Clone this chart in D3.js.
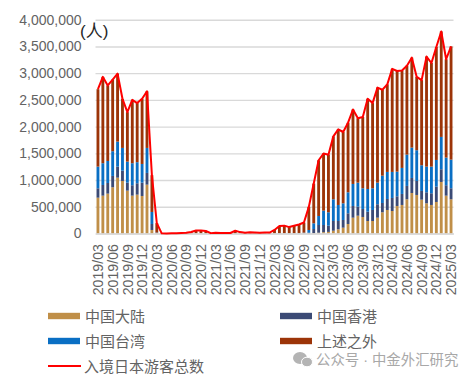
<!DOCTYPE html>
<html>
<head>
<meta charset="utf-8">
<script src="https://cdn.jsdelivr.net/npm/d3@7"></script>
<style>
html, body { margin: 0; padding: 0; background: #fff; }
text { font-family: "Liberation Sans", "Noto Sans CJK SC", sans-serif; }
</style>
</head>
<body>
<div id="container"></div>
<script>
// monthly values, thousands of visitors, 2019/03 .. 2025/03
var startYear = 2019, startMonth = 3, monthCount = 73;
var mainland = [670,708,746,865,1045,983,802,708,727,702,914,66,10,
    0,0,0,0,1,1,2,3,3,2,1,1,1,1,1,3,2,1,1,1,1,1,1,3,4,4,4,4,5,5,
    3,8,15,25,30,52,79,109,178,296,333,309,234,234,296,397,440,421,515,534,640,758,721,633,565,534,590,964,708,640];
var hongkong = [176,200,199,212,206,193,149,195,213,249,219,112,3,
    0,0,0,0,0,0,0,0,0,0,0,0,0,0,0,0,0,0,0,0,0,0,0,0,1,1,1,1,1,3,
    12,76,144,134,116,182,155,144,200,219,169,150,174,206,251,174,206,244,181,206,250,281,262,163,206,219,286,238,195,206];
var taiwan = [405,407,412,462,468,425,394,412,394,350,468,225,5,
    0,0,0,0,0,0,0,0,0,0,0,0,0,0,0,0,0,0,0,0,0,0,0,2,3,3,3,3,4,8,
    51,107,169,268,251,406,300,312,393,412,449,387,425,406,404,511,506,487,461,487,586,568,575,481,480,498,500,605,517,536];
var others = [1449,1615,1413,1341,1271,919,925,1185,1106,1219,1059,687,176,
    3,2,3,4,8,13,25,53,55,44,6,11,10,9,8,48,24,12,21,19,11,17,16,61,131,139,112,136,159,190,
    432,743,1042,1070,1078,1177,1415,1334,1302,1393,1205,1334,1687,1594,1779,1608,1638,1928,1883,1823,1664,1683,1372,1593,2059,1939,2114,1973,1840,2118];
var totals = [2700,2930,2770,2880,2990,2520,2270,2500,2440,2520,2660,1090,194,
    3,2,3,4,9,14,27,56,58,46,7,12,11,10,9,51,26,13,22,20,12,18,17,66,139,147,120,144,169,206,
    498,934,1370,1497,1475,1817,1949,1899,2073,2320,2156,2180,2520,2440,2730,2690,2790,3080,3040,3050,3140,3290,2930,2870,3310,3190,3490,3780,3260,3500];

var seriesNames = ["中国大陆", "中国香港", "中国台湾", "上述之外"];
var seriesColors = ["#c08f48", "#3b4a75", "#0a6fc4", "#9c3408"];
var lineName = "入境日本游客总数";
var yTicks = [0, 500, 1000, 1500, 2000, 2500, 3000, 3500, 4000];

var width = 473,
    height = 379,
    left = 95.5,
    right = 453.5,
    top_ = 19.7,
    bottom = 233.5,
    textColor = "#636363",
    svg;

var months = d3.range(monthCount).map(function(i) {
    var m = startMonth - 1 + i;
    return (startYear + Math.floor(m / 12)) + "/" + d3.format("02")(m % 12 + 1);
});

var table = months.map(function(month, i) {
    return { month: month, a: mainland[i], b: hongkong[i], c: taiwan[i], d: others[i] };
});

var x = d3.scaleBand().domain(months).range([left, right]).paddingInner(0.42).paddingOuter(0.21);
var y = d3.scaleLinear().domain([0, 4000]).range([bottom, top_]);

function createSvg() {
    svg = d3.select("#container")
        .append("svg")
        .attr("width", width)
        .attr("height", height)
        .style("display", "block");
}

function renderYAxis() {
    var axis = d3.axisLeft(y)
        .tickValues(yTicks)
        .tickSize(-(right - left))
        .tickPadding(14)
        .tickFormat(function(d) { return d3.format(",")(d * 1000); });
    var g = svg.append("g")
        .attr("transform", "translate(" + left + ",0)")
        .call(axis);
    g.select(".domain").remove();
    g.selectAll("line").attr("stroke", "#d9d9d9").attr("stroke-width", 1.4);
    g.selectAll("text").attr("font-size", 14).attr("fill", textColor);
}

function renderBars() {
    var stack = d3.stack().keys(["a", "b", "c", "d"]);
    svg.selectAll(".series")
        .data(stack(table))
        .enter().append("g")
        .attr("class", "series")
        .attr("fill", function(d, i) { return seriesColors[i]; })
        .selectAll("rect")
        .data(function(d) { return d; })
        .enter().append("rect")
        .attr("x", function(d) { return x(d.data.month); })
        .attr("width", x.bandwidth())
        .attr("y", function(d) { return y(d[1]); })
        .attr("height", function(d) { return y(d[0]) - y(d[1]); });
}

function renderLine() {
    var line = d3.line()
        .x(function(d, i) { return x(months[i]) + x.bandwidth() / 2; })
        .y(function(d) { return y(d); });
    svg.append("path")
        .datum(totals)
        .attr("fill", "none")
        .attr("stroke", "#ff0000")
        .attr("stroke-width", 2)
        .attr("stroke-linejoin", "round")
        .attr("d", line);
}

function renderXAxis() {
    var axis = d3.axisBottom(x)
        .tickValues(months.filter(function(d, i) { return i % 3 === 0; }))
        .tickSize(0);
    var g = svg.append("g")
        .attr("transform", "translate(0," + bottom + ")")
        .call(axis);
    g.select(".domain").attr("stroke", "#d9d9d9").attr("stroke-width", 1.4);
    g.selectAll("text")
        .attr("font-size", 14.2)
        .attr("fill", textColor)
        .attr("text-anchor", "end")
        .attr("transform", "rotate(-90)")
        .attr("x", -10.5)
        .attr("y", 0)
        .attr("dy", "0.36em");
}

function renderLegend() {
    var rows = [
        [48, 316, 0], [280, 316, 1],
        [48, 341, 2], [280, 341, 3]
    ];
    rows.forEach(function(r) {
        svg.append("rect")
            .attr("x", r[0]).attr("y", r[1] - 3.2)
            .attr("width", 32).attr("height", 6.4)
            .attr("fill", seriesColors[r[2]]);
        svg.append("text")
            .attr("x", r[0] + 37).attr("y", r[1] + 5.5)
            .attr("font-size", 15).attr("fill", textColor)
            .text(seriesNames[r[2]]);
    });
    svg.append("line")
        .attr("x1", 48).attr("x2", 81).attr("y1", 366).attr("y2", 366)
        .attr("stroke", "#ff0000").attr("stroke-width", 2);
    svg.append("text")
        .attr("x", 84).attr("y", 371.5)
        .attr("font-size", 15).attr("fill", textColor)
        .text(lineName);
}

function renderNotes() {
    svg.append("text")
        .attr("x", 80).attr("y", 37)
        .attr("font-size", 17).attr("fill", "#262626")
        .text("(人)");
    // watermark
    var mark = svg.append("g").attr("fill", "#b4b4b4");
    mark.append("ellipse").attr("cx", 300).attr("cy", 358).attr("rx", 7).attr("ry", 6);
    mark.append("ellipse").attr("cx", 307).attr("cy", 362).attr("rx", 5.5).attr("ry", 4.8).attr("stroke", "#fff");
    svg.append("text")
        .attr("x", 316).attr("y", 365)
        .attr("font-size", 14.4).attr("fill", "#a8a8a8")
        .text("公众号 · 中金外汇研究");
}

createSvg();
renderYAxis();
renderBars();
renderXAxis();
renderLine();
renderLegend();
renderNotes();
</script>
</body>
</html>
